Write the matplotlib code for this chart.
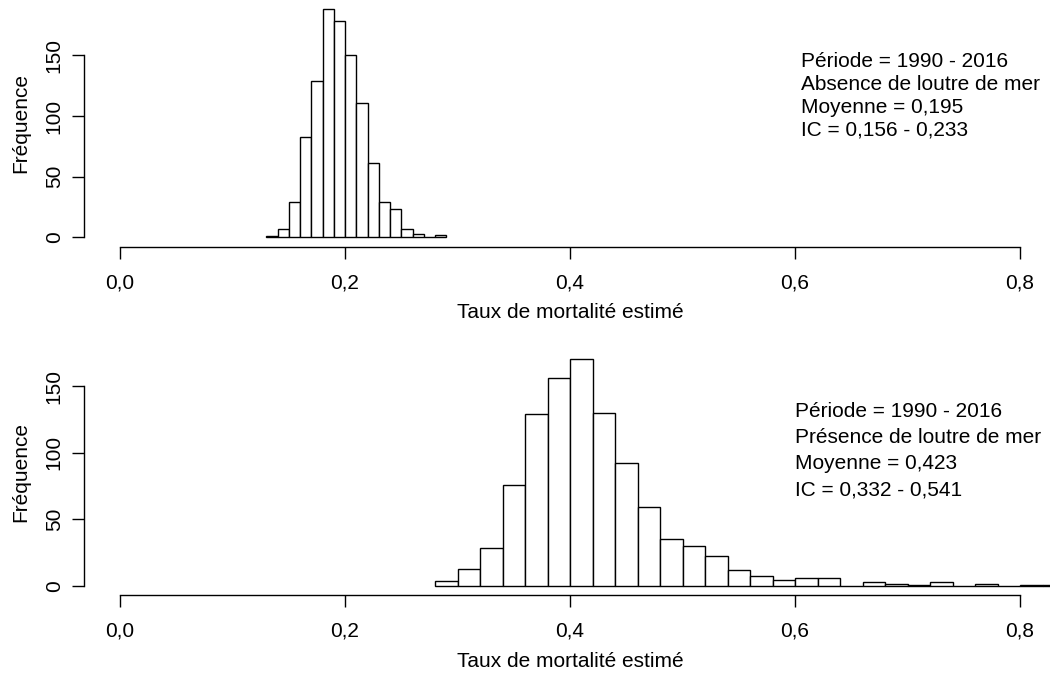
import matplotlib.pyplot as plt

plt.rcParams['font.family'] = ['Liberation Sans', 'DejaVu Sans']

# DATA
# top panel: absence of sea otter, bins of 0.01
abs_left = [0.13, 0.14, 0.15, 0.16, 0.17, 0.18, 0.19, 0.20,
            0.21, 0.22, 0.23, 0.24, 0.25, 0.26, 0.27, 0.28]
abs_count = [1, 7, 29, 83, 129, 188, 178, 150,
             111, 61, 29, 23, 7, 3, 0, 2]
abs_width = 0.01
abs_text = ["Période = 1990 - 2016", "Absence de loutre de mer",
            "Moyenne = 0,195", "IC = 0,156 - 0,233"]

# bottom panel: presence of sea otter, bins of 0.02
pre_left = [0.28, 0.30, 0.32, 0.34, 0.36, 0.38, 0.40, 0.42, 0.44,
            0.46, 0.48, 0.50, 0.52, 0.54, 0.56, 0.58, 0.60, 0.62,
            0.64, 0.66, 0.68, 0.70, 0.72, 0.74, 0.76, 0.78, 0.80, 0.82]
pre_count = [4, 13, 29, 76, 129, 156, 170, 130, 92,
             59, 35, 30, 23, 12, 8, 5, 6, 6,
             0, 3, 2, 1, 3, 0, 2, 0, 1, 1]
pre_width = 0.02
pre_text = ["Période = 1990 - 2016", "Présence de loutre de mer",
            "Moyenne = 0,423", "IC = 0,332 - 0,541"]

x_ticks = [0.0, 0.2, 0.4, 0.6, 0.8]
x_labels = ["0,0", "0,2", "0,4", "0,6", "0,8"]
y_ticks = [0, 50, 100, 150]

# LAYOUT
W, H = 1050, 673
fig = plt.figure(figsize=(W / 100, H / 100), dpi=100)


def px_axes(left, top, right, bottom):
    return fig.add_axes([left / W, 1 - bottom / H, (right - left) / W, (bottom - top) / H])


FS = 15


def draw_panel(ax, left, count, width, ymax, lines, tx, ty, step):
    ax.bar(left, count, width=width, align='edge', facecolor='white',
           edgecolor='black', linewidth=1.0)
    ax.set_xlim(-0.032, 0.832)
    ax.set_ylim(-0.04 * ymax, 1.04 * ymax)
    for s in ['top', 'right']:
        ax.spines[s].set_visible(False)
    ax.spines['left'].set_bounds(0, 150)
    ax.spines['bottom'].set_bounds(0, 0.8)
    for s in ['left', 'bottom']:
        ax.spines[s].set_linewidth(1.0)
    ax.set_xticks(x_ticks)
    ax.set_xticklabels(x_labels)
    ax.set_yticks(y_ticks)
    ax.set_yticklabels([str(v) for v in y_ticks], rotation=90, va='center')
    ax.tick_params(length=8.6, width=1.0, labelsize=FS, pad=10.5)
    ax.tick_params(axis='y', pad=6)
    ax.set_xlabel("Taux de mortalité estimé", fontsize=FS)
    ax.xaxis.set_label_coords(0.432 / 0.864, -0.231)
    ax.set_ylabel("Fréquence", fontsize=FS)
    ax.yaxis.set_label_coords(-0.0556, 0.5)
    ax.patch.set_alpha(0)
    for i, t in enumerate(lines):
        ax.text(tx, ty - i * step, t, fontsize=FS, ha='left', va='baseline')


ax1 = px_axes(84, 0.1, 1056, 246.5)
draw_panel(ax1, abs_left, abs_count, abs_width, 188, abs_text, 0.6055, 140.7, 19.0)

ax2 = px_axes(84, 349, 1056, 595.3)
draw_panel(ax2, pre_left, pre_count, pre_width, 171, pre_text, 0.6, 126.5, 19.5)

fig.savefig("out.png", dpi=100)
